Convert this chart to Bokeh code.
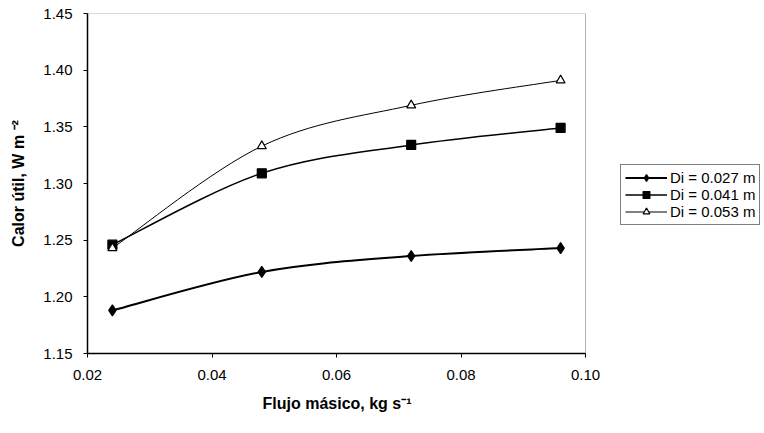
import numpy as np
from bokeh.plotting import figure
from bokeh.models import (ColumnDataSource, Range1d, FixedTicker, Legend, LegendItem,
                          NumeralTickFormatter, BoxAnnotation, Title)
from bokeh.embed import file_html
from bokeh.resources import INLINE

# ---- data ----
flujo = [0.024, 0.048, 0.072, 0.096]
di_027 = [1.188, 1.222, 1.236, 1.243]
di_041 = [1.246, 1.309, 1.334, 1.349]
di_053 = [1.243, 1.333, 1.369, 1.391]
series_labels = ["Di = 0.027 m", "Di = 0.041 m", "Di = 0.053 m"]
x_ticks = [0.02, 0.04, 0.06, 0.08, 0.10]
y_ticks = [1.15, 1.20, 1.25, 1.30, 1.35, 1.40, 1.45]
x_title = "Flujo másico, kg s⁻¹"
y_title = "Calor útil, W m ⁻²"

FONT = "Liberation Sans"

# layout (pixels): plot box from x=87 to x=585, legend to its right
W, H = 764, 433
LEFT, TOP, BOTTOM = 87, 13, 80
BOX_W = 498
frame_w = W - LEFT
x0, x1 = x_ticks[0], x_ticks[-1]
x_end = x0 + (x1 - x0) * frame_w / BOX_W

p = figure(width=W, height=H, output_backend="svg", toolbar_location=None,
           x_range=Range1d(x0, x_end), y_range=Range1d(y_ticks[0], y_ticks[-1]),
           min_border_left=LEFT, min_border_right=0, min_border_top=TOP,
           min_border_bottom=BOTTOM)
p.background_fill_color = "white"
p.border_fill_color = "white"
p.grid.visible = False
p.outline_line_color = None

# plot-area box
p.add_layout(BoxAnnotation(left=x0, right=x1, bottom=y_ticks[0], top=y_ticks[-1],
                           fill_alpha=0, line_color="black", line_width=1))


def smooth_source(xs, ys):
    """Bezier control points (Catmull-Rom style) so the lines look like Excel smoothed lines."""
    xs = np.asarray(xs, float)
    ys = np.asarray(ys, float)
    n = len(xs)
    px = np.concatenate([[xs[0]], xs, [xs[-1]]])
    py = np.concatenate([[ys[0]], ys, [ys[-1]]])
    d = dict(x0=[], y0=[], x1=[], y1=[], cx0=[], cy0=[], cx1=[], cy1=[])
    for i in range(n - 1):
        j = i + 1
        d["x0"].append(px[j]); d["y0"].append(py[j])
        d["x1"].append(px[j + 1]); d["y1"].append(py[j + 1])
        d["cx0"].append(px[j] + (px[j + 1] - px[j - 1]) / 6)
        d["cy0"].append(py[j] + (py[j + 1] - py[j - 1]) / 6)
        d["cx1"].append(px[j + 1] - (px[j + 2] - px[j]) / 6)
        d["cy1"].append(py[j + 1] - (py[j + 2] - py[j]) / 6)
    return ColumnDataSource(d)


styles = [
    dict(ys=di_027, lw=2.0, marker="diamond", size=11, fill="black"),
    dict(ys=di_041, lw=1.5, marker="square", size=9, fill="black"),
    dict(ys=di_053, lw=1.0, marker="triangle", size=9, fill="white"),
]

items = []
for lab, st in zip(series_labels, styles):
    src = smooth_source(flujo, st["ys"])
    br = p.bezier(x0="x0", y0="y0", x1="x1", y1="y1", cx0="cx0", cy0="cy0",
                  cx1="cx1", cy1="cy1", source=src, line_color="black",
                  line_width=st["lw"])
    sr = p.scatter(x=flujo, y=st["ys"], marker=st["marker"], size=st["size"],
                   fill_color=st["fill"], line_color="black", line_width=1.2)
    items.append(LegendItem(label=lab, renderers=[br, sr]))

legend = Legend(items=items, location=(533, 128), orientation="vertical")
legend.label_text_font = FONT
legend.label_text_font_size = "15px"
legend.label_text_color = "black"
legend.label_height = 17
legend.glyph_height = 17
legend.glyph_width = 42
legend.label_standoff = 3
legend.spacing = 0
legend.padding = 4
legend.margin = 0
legend.border_line_color = "black"
legend.border_line_width = 1
legend.background_fill_color = "white"
legend.background_fill_alpha = 1
p.add_layout(legend, "center")

# axes
for ax in (p.xaxis[0], p.yaxis[0]):
    ax.axis_line_color = "black"
    ax.axis_line_width = 1.5
    ax.major_tick_line_color = "black"
    ax.major_tick_in = 0
    ax.major_tick_out = 4
    ax.minor_tick_line_color = None
    ax.major_label_text_font = FONT
    ax.major_label_text_font_size = "15px"
    ax.major_label_text_color = "black"
    ax.axis_label_text_font = FONT
    ax.axis_label_text_font_size = "16px"
    ax.axis_label_text_font_style = "bold"
    ax.axis_label_text_color = "black"

p.xaxis[0].bounds = (x0, x1)
p.xaxis[0].ticker = FixedTicker(ticks=x_ticks)
p.yaxis[0].ticker = FixedTicker(ticks=y_ticks)
p.xaxis[0].formatter = NumeralTickFormatter(format="0.00")
p.yaxis[0].formatter = NumeralTickFormatter(format="0.00")
p.yaxis[0].axis_label = y_title
p.xaxis[0].major_label_standoff = 12
p.yaxis[0].major_label_standoff = 11
p.yaxis[0].axis_label_standoff = 13

# x title centred under the plot box (not under the whole frame)
xt = Title(text=x_title, align="left", offset=175, standoff=20,
           text_font=FONT, text_font_size="16px", text_font_style="bold",
           text_color="black")
p.add_layout(xt, "below")

open("out.html", "w").write(file_html(p, INLINE))
